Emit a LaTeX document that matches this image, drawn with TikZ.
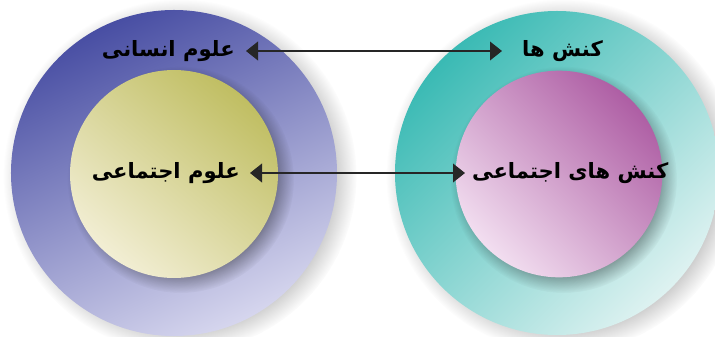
\documentclass[tikz,border=0pt]{standalone}
\usepackage{fontspec}
\newfontfamily\farsi[Script=Arabic]{DejaVu Sans}
\TeXXeTstate=1
\usetikzlibrary{arrows.meta,fadings}

\definecolor{insaniDark}{RGB}{72,78,163}
\definecolor{insaniLight}{RGB}{214,214,238}
\definecolor{olive}{RGB}{192,190,98}
\definecolor{cream}{RGB}{242,238,212}
\definecolor{teal}{RGB}{58,186,180}
\definecolor{tealLight}{RGB}{222,242,241}
\definecolor{magenta}{RGB}{174,94,164}
\definecolor{pinkLight}{RGB}{242,222,240}

\tikzset{
  ring/.style={circle, draw=none, inner sep=0, shading=axis},
  halo/.style={fill=black, fill opacity=#1, path fading=circle with fuzzy edge 20 percent},
  lbl/.style={font=\farsi\bfseries\fontsize{18}{22}\selectfont, text=black, inner ysep=0},
  link/.style={line width=0.5mm, black!85,
    {Triangle[length=3.6mm,width=5.6mm]}-{Triangle[length=3.6mm,width=5.6mm]}}
}

\begin{document}
\begin{tikzpicture}[x=0.03cm, y=-0.03cm]
\useasboundingbox (0,0) rectangle (715,337);

% left circles
\path[halo=0.3] (180,176) circle (5.3cm);
\node[ring, minimum size=9.78cm, top color=insaniDark, bottom color=insaniLight, shading angle=25] (insaniRing) at (174,173) {};
\path[halo=0.4] ([xshift=2mm,yshift=-2mm]insaniRing.center) circle (3.4cm);
\node[ring, minimum size=6.24cm, top color=olive, bottom color=cream, shading angle=-40] (ejtemaiCore) at (174,174) {};

% right circles
\path[halo=0.3] (563,176) circle (5.3cm);
\node[ring, minimum size=9.72cm, top color=teal, bottom color=tealLight, shading angle=45] (koneshRing) at (557,173) {};
\path[halo=0.4] ([xshift=2mm,yshift=-2mm]koneshRing.center) circle (3.4cm);
\node[ring, minimum size=6.2cm, top color=magenta, bottom color=pinkLight, shading angle=-45] (koneshCore) at (559,174) {};

% labels
\node[lbl, anchor=east, inner xsep=3.3mm] (insani) at (246,51) {\beginR علوم انسانی\endR};
\node[lbl, anchor=west, inner xsep=6mm] (konesh) at (502,51) {\beginR کنش ها\endR};
\node[lbl, anchor=east, inner xsep=3mm] (ejtemai) at (250,173) {\beginR علوم اجتماعی\endR};
\node[lbl, anchor=west, inner xsep=2.1mm] (koneshEjtemai) at (465,173) {\beginR کنش های اجتماعی\endR};

% arrows
\draw[link] (insani.east) -- (konesh.west);
\draw[link] (ejtemai.east) -- (koneshEjtemai.west);

\end{tikzpicture}
\end{document}
